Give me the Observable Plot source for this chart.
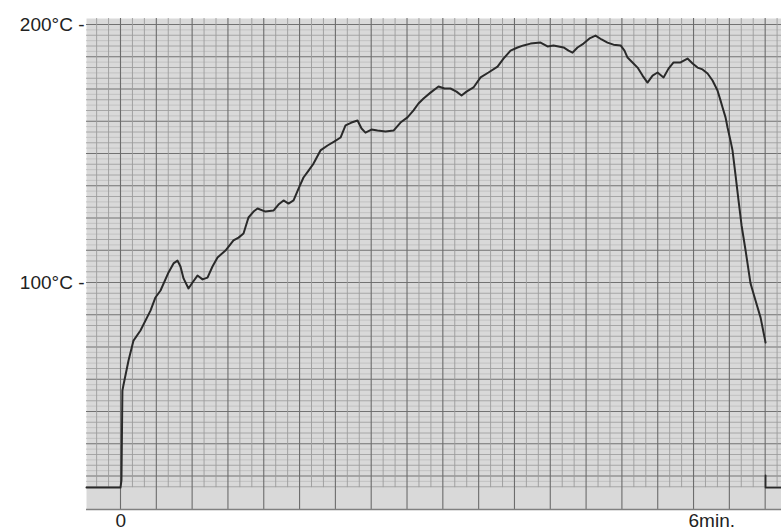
<!DOCTYPE html>
<html><head><meta charset="utf-8">
<script src="https://cdn.jsdelivr.net/npm/d3@7"></script>
<script src="https://cdn.jsdelivr.net/npm/@observablehq/plot@0.6"></script>
<style>body{margin:0;background:#fff}#chart{width:781px;height:530px}</style>
</head><body><div id="chart"></div>
<script>
// Temperature trace (time in minutes, temperature in °C)
const minutes = [-0.356,0,0.01,0.02,0.03,0.084,0.136,0.209,0.314,0.366,0.419,0.503,0.555,0.597,0.628,0.660,0.712,0.754,0.806,0.859,0.911,0.963,1.016,1.099,1.183,1.236,1.288,1.340,1.393,1.435,1.518,1.602,1.654,1.707,1.759,1.812,1.864,1.916,1.969,2.021,2.094,2.168,2.241,2.304,2.356,2.419,2.482,2.524,2.565,2.628,2.691,2.775,2.859,2.932,3.005,3.068,3.120,3.173,3.246,3.330,3.393,3.455,3.518,3.571,3.623,3.696,3.770,3.853,3.948,4.010,4.084,4.157,4.220,4.293,4.398,4.471,4.534,4.586,4.639,4.691,4.733,4.785,4.848,4.911,4.974,5.037,5.099,5.162,5.236,5.277,5.309,5.361,5.414,5.466,5.518,5.571,5.623,5.686,5.738,5.791,5.864,5.937,5.990,6.042,6.094,6.147,6.199,6.251,6.283,6.304,6.335,6.356,6.387,6.408,6.440,6.471,6.503,6.545,6.597,6.649,6.702,6.754];
const temps = [20.5,20.5,23.3,58.1,60.1,69.8,77.5,81.4,89.1,94.2,96.9,103.9,107.4,108.5,106.2,101.6,97.7,100.0,102.7,101.2,101.9,106.2,109.7,112.4,116.3,117.4,119.0,125.2,127.5,128.7,127.5,127.9,130.2,131.8,130.6,131.8,136.4,140.7,143.4,146.1,151.2,153.1,154.7,156.2,160.9,162.0,162.8,159.7,158.1,159.3,158.9,158.5,158.9,162.0,164.0,166.7,169.4,171.3,173.6,176.0,175.2,175.2,174.0,172.5,174.0,175.6,179.5,181.4,183.7,186.8,189.9,191.1,191.9,192.6,193.0,191.5,191.9,191.5,191.1,189.9,189.1,191.1,192.6,194.6,195.7,194.2,193.0,192.2,191.9,189.9,187.2,185.3,183.3,180.2,177.5,180.2,181.4,179.5,182.9,185.3,185.3,186.8,184.9,183.3,182.6,181.0,178.3,174.4,170.5,167.8,164.0,160.1,155.0,151.2,141.5,131.8,122.1,112.4,99.6,93.0,86.4,76.7];
// Pen trace after the recorder was switched back to baseline
const tailMinutes = [6.754, 6.754, 6.921];
const tailTemps = [25.2, 20.5, 20.5];

const yTicks = [100, 200];
const yTickLabels = ["100°C", "200°C"];
const xTicks = [0, 6];
const xTickLabels = ["0", "6min."];

const baselineTemp = 20.5;
const xDomain = [-0.356, 6.921];
const yDomain = [12.02, 202.33];

const trace = minutes.map((t, i) => ({t, T: temps[i]}));
const tail = tailMinutes.map((t, i) => ({t, T: tailTemps[i]}));

// chart-paper grid (in data units)
const vStep = 0.125;
const vLines = d3.range(-2, 56).map(k => ({t: k * vStep, major: k % 3 === 0}));
const hStep = 12.5 / 6;
const hLines = d3.range(-38, 49).map(k => ({T: 100 + k * hStep, level: k % 6 === 0 ? 2 : (k % 2 === 0 ? 1 : 0)}));

const yLabel = new Map(yTicks.map((d, i) => [d, yTickLabels[i] + " -"]));
const xLabel = new Map(xTicks.map((d, i) => [d, xTickLabels[i]]));

const chart = Plot.plot({
  width: 781,
  height: 530,
  marginLeft: 86,
  marginRight: 0,
  marginTop: 18,
  marginBottom: 21,
  style: {fontFamily: "'Liberation Sans', Arial, sans-serif", fontSize: "19px", color: "#222", background: "#fff"},
  x: {domain: xDomain, axis: null, label: null},
  y: {domain: yDomain, axis: null, label: null},
  marks: [
    Plot.frame({fill: "#d9d9d9", stroke: null}),
    Plot.ruleY(hLines.filter(d => d.level === 0 && d.T > baselineTemp), {y: "T", stroke: "#bcbcbc", strokeWidth: 0.8}),
    Plot.ruleY(hLines.filter(d => d.level === 1 && d.T > baselineTemp), {y: "T", stroke: "#a0a0a0", strokeWidth: 0.9}),
    Plot.ruleY(hLines.filter(d => d.level === 2 && d.T > baselineTemp), {y: "T", stroke: "#727272", strokeWidth: 1.1}),
    Plot.ruleX(vLines.filter(d => !d.major), {x: "t", y1: baselineTemp, y2: yDomain[1], stroke: "#9c9c9c", strokeWidth: 0.9}),
    Plot.ruleX(vLines.filter(d => d.major), {x: "t", y1: yDomain[0], y2: yDomain[1], stroke: "#6c6c6c", strokeWidth: 1.1}),
    Plot.ruleY([yDomain[0]], {stroke: "#808080", strokeWidth: 1.5}),
    Plot.line(trace, {x: "t", y: "T", stroke: "#2a2a2a", strokeWidth: 2, strokeLinejoin: "round"}),
    Plot.line(tail, {x: "t", y: "T", stroke: "#2a2a2a", strokeWidth: 1.8}),
    Plot.axisY(yTicks, {tickSize: 0, tickPadding: 2, tickFormat: d => yLabel.get(d), fontSize: 19, label: null}),
    Plot.axisX(xTicks, {tickSize: 0, tickPadding: 4, tickFormat: d => xLabel.get(d), textAnchor: "start", dx: -5, fontSize: 19, label: null})
  ]
});
document.getElementById("chart").append(chart);
</script>
</body></html>
